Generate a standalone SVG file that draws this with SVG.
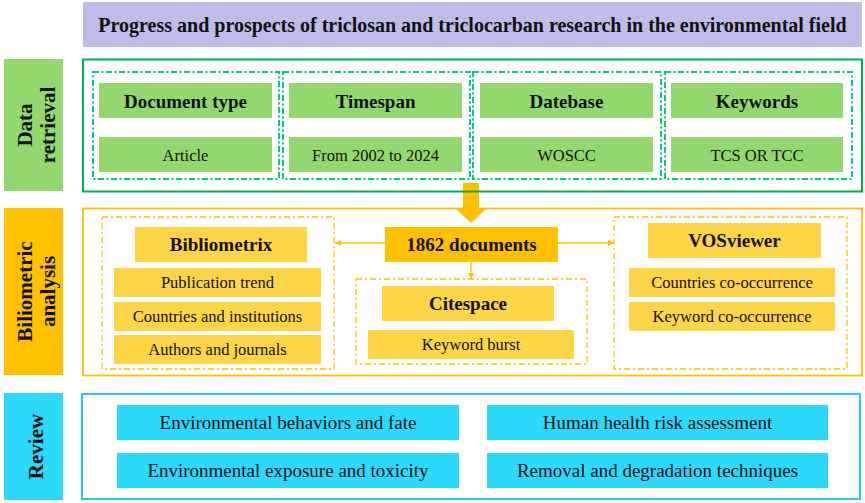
<svg xmlns="http://www.w3.org/2000/svg" width="865" height="503" viewBox="0 0 865 503">
<style>
text{font-family:"Liberation Serif","Times New Roman",serif;fill:#111;text-anchor:middle}
.t{font-weight:bold;font-size:20px}
.b{font-weight:bold;font-size:19px}
.r{font-size:16.5px}
.rv{font-size:19px}
.side{font-weight:bold;font-size:21px}
.gl{fill:#92D86F}
.yl{fill:#FFD548}
.cy{fill:#2DD9FA}
.gdash{fill:none;stroke:#00CC78;stroke-width:2;stroke-dasharray:6 2.5 2 2.5}
.ydash{fill:none;stroke:#FFC000;stroke-width:1.3;stroke-dasharray:6 3 2 3}
.conn{stroke:#FFC000;stroke-width:1.3;fill:none}
</style>
<defs>
<marker id="ah" markerUnits="userSpaceOnUse" markerWidth="7" markerHeight="7" refX="6" refY="3.5" orient="auto">
<path d="M0,0.5 L6,3.5 L0,6.5 z" fill="#FFC000"/>
</marker>
</defs>
<rect width="865" height="503" fill="#fff"/>

<g id="title">
<rect x="83" y="2" width="779" height="45" fill="#BFBDE8"/>
<text class="t" x="472.5" y="31.5">Progress and prospects of triclosan and triclocarban research in the environmental field</text>
</g>

<g id="connectors">
<path d="M463,183 H479 V208 H487 L471,223 L455,208 H463 Z" fill="#FFC000"/>
<line class="conn" x1="385" y1="243" x2="335" y2="243" marker-end="url(#ah)"/>
<line class="conn" x1="558" y1="243" x2="614" y2="243" marker-end="url(#ah)"/>
<line class="conn" x1="471" y1="262" x2="471" y2="279" marker-end="url(#ah)"/>
</g>

<g id="data-retrieval">
<rect class="gl" x="4" y="59" width="59" height="132"/>
<text class="side" transform="translate(33.5,125) rotate(-90)"><tspan x="0" y="-1.5">Data</tspan><tspan x="0" y="21.5">retrieval</tspan></text>
<rect x="83" y="59.5" width="779" height="132" fill="none" stroke="#00B050" stroke-width="2"/>
</g>

<g id="document-type">
<rect class="gdash" x="93" y="72" width="186" height="107"/>
<rect class="gl" x="99" y="83" width="173" height="35"/>
<text class="b" x="185.5" y="107.5">Document type</text>
<rect class="gl" x="99" y="137" width="173" height="35"/>
<text class="r" x="185.5" y="160.5">Article</text>
</g>
<g id="timespan">
<rect class="gdash" x="283" y="72" width="187" height="107"/>
<rect class="gl" x="289" y="83" width="173" height="35"/>
<text class="b" x="375.5" y="107.5">Timespan</text>
<rect class="gl" x="289" y="137" width="173" height="35"/>
<text class="r" x="375.5" y="160.5">From 2002 to 2024</text>
</g>
<g id="database">
<rect class="gdash" x="473" y="72" width="188" height="107"/>
<rect class="gl" x="480" y="83" width="173" height="35"/>
<text class="b" x="566.5" y="107.5">Datebase</text>
<rect class="gl" x="480" y="137" width="173" height="35"/>
<text class="r" x="566.5" y="160.5">WOSCC</text>
</g>
<g id="keywords">
<rect class="gdash" x="665" y="72" width="187" height="107"/>
<rect class="gl" x="671" y="83" width="172" height="35"/>
<text class="b" x="757" y="107.5">Keywords</text>
<rect class="gl" x="671" y="137" width="172" height="35"/>
<text class="r" x="757" y="160.5">TCS OR TCC</text>
</g>

<g id="bibliometric-analysis">
<rect x="4" y="208" width="59" height="167" fill="#FFC000"/>
<text class="side" transform="translate(33.5,291.5) rotate(-90)"><tspan x="0" y="-1.5">Biliometric</tspan><tspan x="0" y="21.5">analysis</tspan></text>
<rect x="83" y="208.5" width="779" height="167" fill="none" stroke="#FFC000" stroke-width="1.8"/>
</g>

<g id="documents">
<rect x="385" y="227" width="173" height="35" fill="#FFC000"/>
<text class="b" x="471.5" y="251">1862 documents</text>
</g>

<g id="bibliometrix">
<rect class="ydash" x="102" y="217" width="232" height="152"/>
<rect class="yl" x="135" y="227" width="172" height="35"/>
<text class="b" x="221" y="251">Bibliometrix</text>
<rect class="yl" x="114" y="268" width="207" height="29"/>
<text class="r" x="217.5" y="288.3">Publication trend</text>
<rect class="yl" x="114" y="302" width="207" height="29"/>
<text class="r" x="217.5" y="322.2">Countries and institutions</text>
<rect class="yl" x="114" y="335" width="207" height="29"/>
<text class="r" x="217.5" y="355.2">Authors and journals</text>
</g>

<g id="citespace">
<rect class="ydash" x="356" y="279" width="231" height="85"/>
<rect class="yl" x="382" y="286" width="172" height="35"/>
<text class="b" x="468" y="310">Citespace</text>
<rect class="yl" x="368" y="330" width="206" height="29"/>
<text class="r" x="471" y="350.2">Keyword burst</text>
</g>

<g id="vosviewer">
<rect class="ydash" x="614" y="217" width="233" height="152"/>
<rect class="yl" x="648" y="223" width="173" height="35"/>
<text class="b" x="734.5" y="247">VOSviewer</text>
<rect class="yl" x="629" y="268" width="206" height="29"/>
<text class="r" x="732" y="288.3">Countries co-occurrence</text>
<rect class="yl" x="629" y="302" width="206" height="29"/>
<text class="r" x="732" y="322.2">Keyword co-occurrence</text>
</g>

<g id="review">
<rect class="cy" x="4" y="393" width="59" height="107"/>
<text class="side" transform="translate(33.5,446.5) rotate(-90)" x="0" y="9">Review</text>
<rect x="82" y="394" width="778" height="105" fill="none" stroke="#2CC8F5" stroke-width="2"/>
</g>
<g id="env-behaviors">
<rect class="cy" x="117" y="405" width="342" height="35"/>
<text class="rv" x="288" y="429">Environmental behaviors and fate</text>
</g>
<g id="human-health">
<rect class="cy" x="487" y="405" width="341" height="35"/>
<text class="rv" x="657.5" y="429">Human health risk assessment</text>
</g>
<g id="env-exposure">
<rect class="cy" x="117" y="453" width="342" height="35"/>
<text class="rv" x="288" y="477">Environmental exposure and toxicity</text>
</g>
<g id="removal">
<rect class="cy" x="487" y="453" width="341" height="35"/>
<text class="rv" x="657.5" y="477">Removal and degradation techniques</text>
</g>
</svg>
